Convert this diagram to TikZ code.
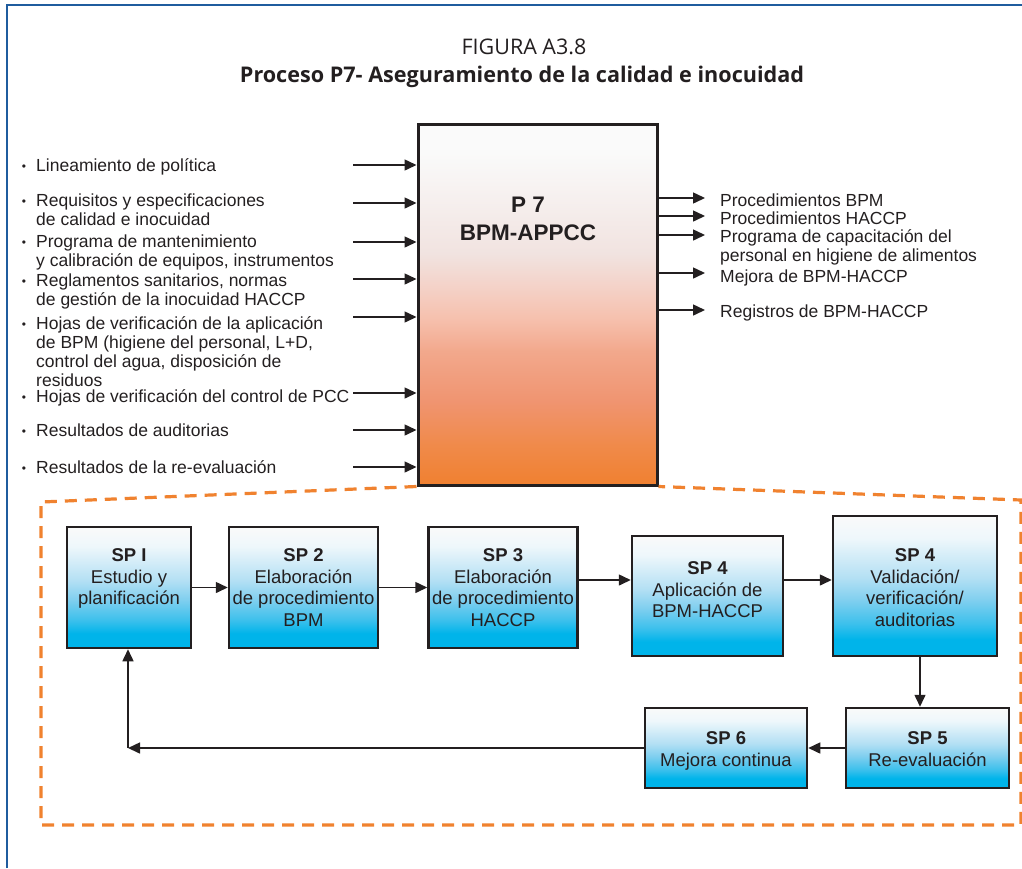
\documentclass[tikz,border=0pt]{standalone}
\usepackage{fontspec}
\setmainfont{Liberation Sans}
\newfontfamily\titlefont{Open Sans}
\usetikzlibrary{arrows.meta}

\definecolor{framecol}{HTML}{1F5C9E}
\definecolor{dashorange}{HTML}{F0822F}
\definecolor{ink}{HTML}{231F20}
% sub-process box shading colours
\definecolor{spcyan}{HTML}{00B4EA}
\definecolor{spc2}{HTML}{3CC0EC}
\definecolor{spc3}{HTML}{80CFEF}
\definecolor{spc4}{HTML}{B4E0F4}
\definecolor{spc5}{HTML}{EEF7FB}
\definecolor{sptop}{HTML}{FAFAFA}
% main process box shading colours
\definecolor{mo1}{HTML}{F08030}
\definecolor{mo2}{HTML}{F08A4A}
\definecolor{mo3}{HTML}{F09470}
\definecolor{mo4}{HTML}{F2A88C}
\definecolor{mo5}{HTML}{F6C0AD}
\definecolor{mo6}{HTML}{F4D2C8}
\definecolor{mo7}{HTML}{F1E3E0}
\definecolor{mo8}{HTML}{FAFAFA}

\pgfdeclareverticalshading{spshade}{100bp}{color(0bp)=(spcyan); color(31bp)=(spcyan);
  color(36.5bp)=(spc2); color(45bp)=(spc3); color(53bp)=(spc4); color(67bp)=(spc5);
  color(75bp)=(sptop); color(100bp)=(sptop)}
\pgfdeclareverticalshading{mainshade}{100bp}{color(0bp)=(mo1); color(25bp)=(mo1);
  color(30.5bp)=(mo2); color(36.5bp)=(mo3); color(43.5bp)=(mo4); color(48bp)=(mo5);
  color(52.5bp)=(mo6); color(57bp)=(mo7); color(71bp)=(mo8); color(100bp)=(mo8)}

\tikzset{
  arr/.style={draw=ink, line width=1.5pt, -{Triangle[length=12pt,width=11pt]}},
  mainbox/.style={draw=ink, line width=3pt, shading=mainshade, inner sep=0pt,
    minimum width=239pt, minimum height=361pt},
  spbox/.style={draw=ink, line width=2.5pt, shading=spshade, inner sep=0pt},
  sptext/.style={anchor=north, align=center, inner sep=0pt, text=ink,
    font=\fontsize{18.5}{21.5}\selectfont},
  itemtext/.style={anchor=north west, align=left, inner sep=0pt, text=ink,
    font=\fontsize{17.5}{19}\selectfont},
  dashbox/.style={draw=dashorange, line width=3.2pt, dash pattern=on 12pt off 8pt},
}
\newcommand{\itembullet}{\llap{\raisebox{1pt}{\fontsize{12}{12}\selectfont\textbullet}\hspace{10pt}}}

\begin{document}
\begin{tikzpicture}[x=1pt,y=-1pt]
\useasboundingbox (0,0) rectangle (1022,868);

% page frame
\draw[framecol, line width=2.5pt] (7,868) -- (7,5) -- (1022,5);

% title
\node[text=ink, font=\titlefont\fontsize{21.5}{21.5}\selectfont] (fig) at (524,47) {FIGURA A3.8};
\node[text=ink, font=\titlefont\bfseries\fontsize{21.6}{21.6}\selectfont] (ttl) at (522,77)
  {Proceso P7- Aseguramiento de la calidad e inocuidad};

% main process
\node[mainbox] (p7) at (537.5,304.5) {};
\node[anchor=north, align=center, inner sep=0pt, text=ink,
  font=\bfseries\fontsize{22.5}{28}\selectfont] (p7t) at (528,193) {\strut P 7\\BPM-APPCC};

% inputs
\node[itemtext] (in1) at (36,158) {\strut\itembullet Lineamiento de política};
\node[itemtext] (in2) at (36,193) {\strut\itembullet Requisitos y especificaciones\\de calidad e inocuidad};
\node[itemtext] (in3) at (36,234) {\strut\itembullet Programa de mantenimiento\\y calibración de equipos, instrumentos};
\node[itemtext] (in4) at (36,273) {\strut\itembullet Reglamentos sanitarios, normas\\de gestión de la inocuidad HACCP};
\node[itemtext] (in5) at (36,316) {\strut\itembullet Hojas de verificación de la aplicación\\de BPM (higiene del personal, L+D,\\control del agua, disposición de\\residuos};
\node[itemtext] (in6) at (36,389) {\strut\itembullet Hojas de verificación del control de PCC};
\node[itemtext] (in7) at (36,423) {\strut\itembullet Resultados de auditorias};
\node[itemtext] (in8) at (36,460) {\strut\itembullet Resultados de la re-evaluación};

\foreach \n/\y in {1/165,2/203,3/242,4/279,5/317,6/393,7/430,8/467}{
  \coordinate (ia\n) at (353,\y);
  \draw[arr] (ia\n) -- (ia\n -| p7.west);
}

% outputs
\foreach \n/\y in {1/198,2/216,3/235,4/273,5/310}{
  \coordinate (oa\n) at (705,\y);
  \draw[arr] (oa\n -| p7.east) -- (oa\n);
}
\node[itemtext] (out1) at (720,193) {\strut Procedimientos BPM};
\node[itemtext] (out2) at (720,211) {\strut Procedimientos HACCP};
\node[itemtext] (out3) at (720,229) {\strut Programa de capacitación del\\personal en higiene de alimentos};
\node[itemtext] (out4) at (720,269) {\strut Mejora de BPM-HACCP};
\node[itemtext] (out5) at (720,304) {\strut Registros de BPM-HACCP};

% sub-process area
\draw[dashbox] (p7.south west) -- (41,502) -- (41,825) -- (1021,825) -- (1021,500) -- (p7.south east);

\node[spbox, minimum width=124pt, minimum height=121pt] (sp1) at (129,587.5) {};
\node[spbox, minimum width=149pt, minimum height=121pt] (sp2) at (303.5,587.5) {};
\node[spbox, minimum width=149pt, minimum height=121pt] (sp3) at (503,587.5) {};
\node[spbox, minimum width=151pt, minimum height=120pt] (sp4a) at (707.5,596) {};
\node[spbox, minimum width=164pt, minimum height=140pt] (sp4b) at (915,586) {};
\node[spbox, minimum width=163pt, minimum height=80pt] (sp5) at (927.5,748) {};
\node[spbox, minimum width=162pt, minimum height=80pt] (sp6) at (726,748) {};

\node[sptext] (t1) at (129,546.6) {\strut\textbf{SP I}\\Estudio y\\planificación};
\node[sptext] (t2) at (303.5,546.6) {\strut\textbf{SP 2}\\Elaboración\\de procedimiento\\BPM};
\node[sptext] (t3) at (503,546.6) {\strut\textbf{SP 3}\\Elaboración\\de procedimiento\\HACCP};
\node[sptext] (t4a) at (707.5,559.6) {\strut\textbf{SP 4}\\Aplicación de\\BPM-HACCP};
\node[sptext] (t4b) at (915,546.6) {\strut\textbf{SP 4}\\Validación/\\verificación/\\auditorias};
\node[sptext] (t5) at (927.5,729.6) {\strut\textbf{SP 5}\\Re-evaluación};
\node[sptext] (t6) at (726,729.6) {\strut\textbf{SP 6}\\Mejora continua};

% flow between sub-processes
\draw[arr] (sp1) -- (sp2);
\draw[arr] (sp2) -- (sp3);
\draw[arr] ([yshift=7.5pt]sp3.east) -- ([yshift=16pt]sp4a.west);
\draw[arr] ([yshift=16pt]sp4a.east) -- ([yshift=6pt]sp4b.west);
\draw[arr] ([xshift=5pt]sp4b.south) -- ([xshift=5pt]sp4b.south |- sp5.north);
\draw[arr] (sp5) -- (sp6);
\coordinate (fb) at (128,748);
\draw[arr] (sp6.west) -- (fb);
\draw[arr] (fb) -- (fb |- sp1.south);
\end{tikzpicture}
\end{document}
